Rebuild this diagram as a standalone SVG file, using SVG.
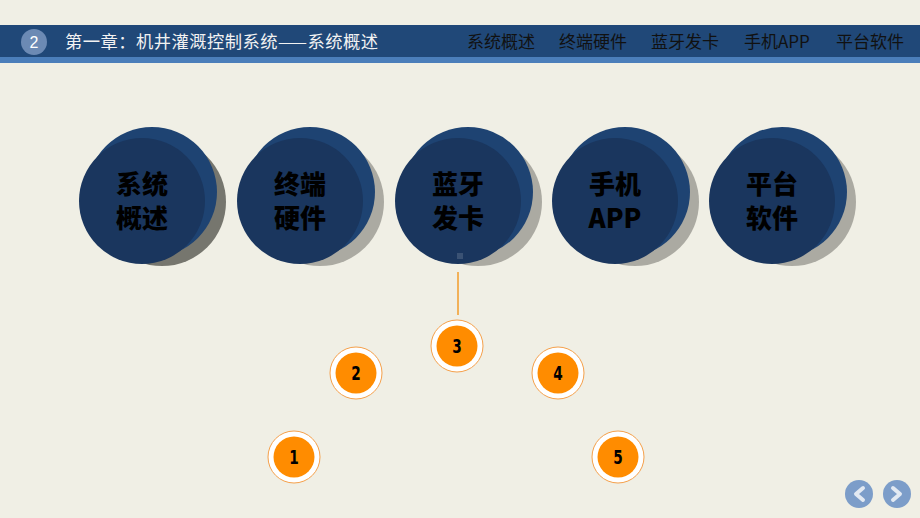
<svg xmlns="http://www.w3.org/2000/svg" width="920" height="518" viewBox="0 0 920 518">
<defs>
<style>
.bg{fill:#F0EFE5}
.bar{fill:#204878}
.strip{fill:#4B7EBA}
.nav{font-family:"Noto Sans CJK SC","Liberation Sans",sans-serif;font-size:17px;fill:#111}
.title{font-family:"Noto Sans CJK SC","Liberation Sans",sans-serif;font-size:17.3px;fill:#F2F2F2}
.shadow{fill:#ABAAA2}
.back{fill:#1E4372}
.front{fill:#1A365E}
.big{font-family:"Noto Sans CJK SC","Liberation Sans",sans-serif;font-size:26px;font-weight:900;fill:#000;text-anchor:middle}
.ring{fill:#FFFFFF;stroke:#F5A04A;stroke-width:1}
.dot{fill:#FF8C00}
.num{font-family:"DejaVu Sans","Liberation Sans",sans-serif;font-size:19px;font-weight:bold;fill:#000;text-anchor:middle}
.navbtn{fill:#7C9DC9}
.chev{fill:none;stroke:#E2E9F2;stroke-width:4;stroke-linecap:round;stroke-linejoin:round}
</style>
</defs>
<rect class="bg" x="0" y="0" width="920" height="518"/>
<g id="header">
<rect class="bar" x="0" y="25" width="920" height="32"/>
<rect class="strip" x="0" y="57" width="920" height="6"/>
<circle cx="34" cy="42" r="13" fill="#6C8AB4"/>
<text x="34" y="48" font-family="Liberation Sans, sans-serif" font-size="16" fill="#FFFFFF" text-anchor="middle">2</text>
<text class="title" x="65" y="48" textLength="313" lengthAdjust="spacing">第一章：机井灌溉控制系统——系统概述</text>
<text class="nav" x="467" y="48">系统概述</text>
<text class="nav" x="559" y="48">终端硬件</text>
<text class="nav" x="651" y="48">蓝牙发卡</text>
<text class="nav" x="744" y="48">手机APP</text>
<text class="nav" x="836" y="48">平台软件</text>
</g>
<g id="node-xitong">
<circle cx="162" cy="202" r="64" fill="#76766E"/>
<circle class="back" cx="152" cy="192" r="65"/>
<circle class="front" cx="142" cy="201" r="63"/>
<text class="big" x="142" y="194">系统</text>
<text class="big" x="142" y="228">概述</text>
</g>
<g id="node-zhongduan">
<circle class="shadow" cx="320" cy="202" r="64"/>
<circle class="back" cx="310" cy="192" r="65"/>
<circle class="front" cx="300" cy="201" r="63"/>
<text class="big" x="300" y="194">终端</text>
<text class="big" x="300" y="228">硬件</text>
</g>
<g id="node-lanya">
<circle class="shadow" cx="478" cy="202" r="64"/>
<circle class="back" cx="468" cy="192" r="65"/>
<circle class="front" cx="458" cy="201" r="63"/>
<text class="big" x="458" y="194">蓝牙</text>
<text class="big" x="458" y="228">发卡</text>
<rect x="457" y="253" width="6" height="6" fill="#3A5274"/>
</g>
<g id="node-shouji">
<circle class="shadow" cx="635" cy="202" r="64"/>
<circle class="back" cx="625" cy="192" r="65"/>
<circle class="front" cx="615" cy="201" r="63"/>
<text class="big" x="615" y="194">手机</text>
<text class="big" x="615" y="228">APP</text>
</g>
<g id="node-pingtai">
<circle class="shadow" cx="792" cy="202" r="64"/>
<circle class="back" cx="782" cy="192" r="65"/>
<circle class="front" cx="772" cy="201" r="63"/>
<text class="big" x="772" y="194">平台</text>
<text class="big" x="772" y="228">软件</text>
</g>
<g id="connectors">
<line x1="458" y1="272" x2="458" y2="315" stroke="#F39C2A" stroke-width="1.5"/>
</g>
<g id="step-1">
<circle class="ring" cx="294" cy="457" r="26"/>
<circle class="dot" cx="294" cy="457" r="20.5"/>
<text class="num" transform="translate(294 464) scale(0.72 1)">1</text>
</g>
<g id="step-2">
<circle class="ring" cx="356" cy="373" r="26"/>
<circle class="dot" cx="356" cy="373" r="20.5"/>
<text class="num" transform="translate(356 380) scale(0.72 1)">2</text>
</g>
<g id="step-3">
<circle class="ring" cx="457" cy="346" r="26"/>
<circle class="dot" cx="457" cy="346" r="20.5"/>
<text class="num" transform="translate(457 353) scale(0.72 1)">3</text>
</g>
<g id="step-4">
<circle class="ring" cx="558" cy="373" r="26"/>
<circle class="dot" cx="558" cy="373" r="20.5"/>
<text class="num" transform="translate(558 380) scale(0.72 1)">4</text>
</g>
<g id="step-5">
<circle class="ring" cx="618" cy="457" r="26"/>
<circle class="dot" cx="618" cy="457" r="20.5"/>
<text class="num" transform="translate(618 464) scale(0.72 1)">5</text>
</g>
<g id="nav-prev">
<circle class="navbtn" cx="859" cy="494" r="14"/>
<path class="chev" d="M863 488 L856 494 L863 500"/>
</g>
<g id="nav-next">
<circle class="navbtn" cx="897" cy="494" r="14"/>
<path class="chev" d="M893 488 L900 494 L893 500"/>
</g>
</svg>
